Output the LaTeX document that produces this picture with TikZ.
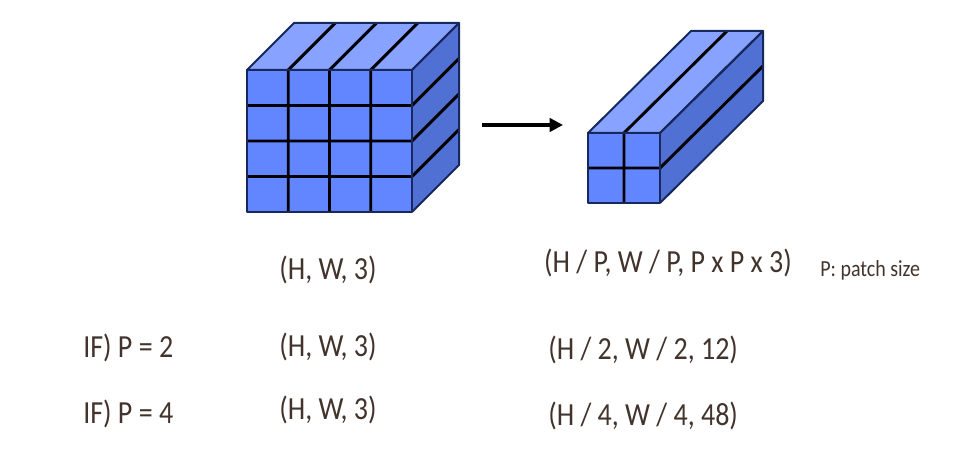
\documentclass[tikz,border=0pt]{standalone}
\usepackage{fontspec}
\setmainfont{Carlito}
\usepackage{graphicx}
\usepackage{tikz}
\usetikzlibrary{arrows.meta,positioning}

\definecolor{faceFront}{RGB}{98,134,255}
\definecolor{faceTop}{RGB}{136,162,255}
\definecolor{faceSide}{RGB}{80,112,212}
\definecolor{edgeNavy}{RGB}{22,40,92}
\definecolor{labelInk}{RGB}{66,52,44}

\newcommand{\tallText}[1]{\scalebox{1}[1.15]{#1}}

\begin{document}
\begin{tikzpicture}[
  x=0.75pt, y=-0.75pt, >=Triangle,
  face/.style={draw=edgeNavy, line width=1.5pt, line join=round},
  grid/.style={draw=black, line width=2.2pt},
  dims/.style={text=labelInk, inner sep=0pt, font=\fontsize{21}{25}\selectfont},
  note/.style={text=labelInk, inner sep=0pt, font=\fontsize{15}{18}\selectfont}
]
\useasboundingbox (0,0) rectangle (973,456);

% image cube H x W x 3
\fill[faceTop] (247,70) -- (294,23) -- (459,23) -- (412,70) -- cycle;
\fill[faceSide] (412,70) -- (459,23) -- (459,165) -- (412,212) -- cycle;
\fill[faceFront] (247,70) rectangle (412,212);
\foreach \cx in {288.25,329.5,370.75} {
  \draw[grid] (\cx,212) -- (\cx,70) -- ++(47,-47);
}
\foreach \cy in {105.5,141,176.5} {
  \draw[grid] (247,\cy) -- (412,\cy) -- ++(47,-47);
}
\draw[face] (247,70) -- (294,23) -- (459,23) -- (412,70) -- cycle;
\draw[face] (412,70) -- (459,23) -- (459,165) -- (412,212);
\draw[face] (247,70) rectangle (412,212);

% patch prism
\fill[faceTop] (588,133) -- (691,31) -- (763,31) -- (660,133) -- cycle;
\fill[faceSide] (660,133) -- (763,31) -- (763,101) -- (660,203) -- cycle;
\fill[faceFront] (588,133) rectangle (660,203);
\draw[grid] (624,203) -- (624,133) -- (727,31);
\draw[grid] (588,168) -- (660,168) -- (763,66);
\draw[face] (588,133) -- (691,31) -- (763,31) -- (660,133) -- cycle;
\draw[face] (660,133) -- (763,31) -- (763,101) -- (660,203);
\draw[face] (588,133) rectangle (660,203);

\coordinate (arrowStart) at (482,125);
\coordinate (arrowEnd) at (563,125);
\draw[line width=2.4pt, -{Triangle[length=10pt,width=10pt]}] (arrowStart) -- (arrowEnd);

% shapes
\node[dims] (inShape) at (328,270) {\tallText{(H, W, 3)}};
\node[dims] (outShape) at (668,263) {\tallText{(H / P, W / P, P x P x 3)}};
\node[note, anchor=west] (patchNote) at (820,270) {\tallText{P: patch size}};

\node[dims, anchor=west] (caseTwo) at (83,348) {\tallText{IF) P = 2}};
\node[dims] (inTwo) at (328,347) {\tallText{(H, W, 3)}};
\node[dims, anchor=west] (outTwo) at (548,350) {\tallText{(H / 2, W / 2, 12)}};

\node[dims, anchor=west] (caseFour) at (83,414) {\tallText{IF) P = 4}};
\node[dims] (inFour) at (328,410) {\tallText{(H, W, 3)}};
\node[dims, anchor=west] (outFour) at (548,416) {\tallText{(H / 4, W / 4, 48)}};
\end{tikzpicture}
\end{document}
